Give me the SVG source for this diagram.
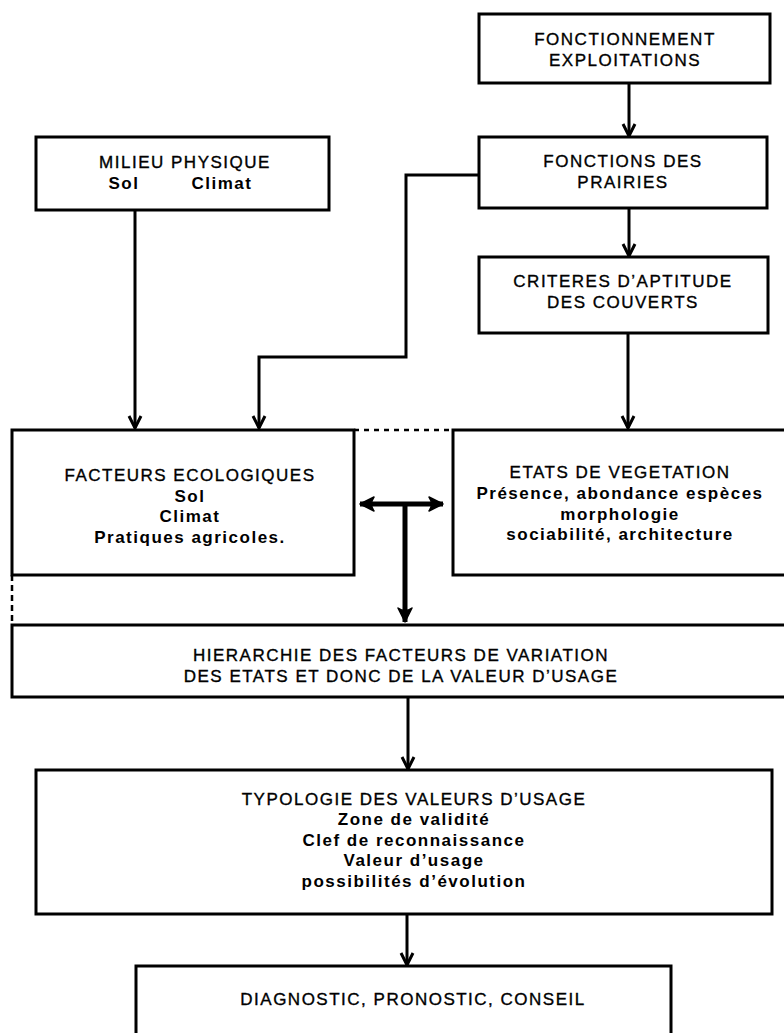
<svg xmlns="http://www.w3.org/2000/svg" width="784" height="1033" viewBox="0 0 784 1033">
<style>
.box{fill:none;stroke:#000;stroke-width:3}
.ln{fill:none;stroke:#000;stroke-width:3}
.t{font-family:"Liberation Sans",Arial,sans-serif;font-size:17px;letter-spacing:1.5px;fill:#000;text-anchor:middle;stroke:#000;stroke-width:0.35}
.b{font-weight:bold;stroke-width:0}
</style>
<defs>
<marker id="ah" markerUnits="userSpaceOnUse" viewBox="-14 -8 16 16" refX="0" refY="0" markerWidth="16" markerHeight="16" orient="auto">
<path d="M-12,-6 L0,0 L-12,6" fill="none" stroke="#000" stroke-width="3"/>
</marker>
<marker id="ahb" markerUnits="userSpaceOnUse" viewBox="-16 -9 18 18" refX="0" refY="0" markerWidth="18" markerHeight="18" orient="auto-start-reverse">
<path d="M0,0 L-14,-7 Q-9,0 -14,7 Z" fill="#000" stroke="#000" stroke-width="1.5" stroke-linejoin="round"/>
</marker>
</defs>
<rect width="784" height="1033" fill="#fff"/>
<g id="connectors">
<line class="ln" x1="629" y1="83" x2="629" y2="136" marker-end="url(#ah)"/>
<line class="ln" x1="629" y1="208" x2="629" y2="256" marker-end="url(#ah)"/>
<line class="ln" x1="628" y1="333" x2="628" y2="428" marker-end="url(#ah)"/>
<line class="ln" x1="135" y1="210" x2="135" y2="428" marker-end="url(#ah)"/>
<polyline class="ln" points="479,175 406,175 406,357 259,357 259,428" marker-end="url(#ah)"/>
<line x1="360" y1="504" x2="443" y2="504" stroke="#000" stroke-width="5" marker-start="url(#ahb)" marker-end="url(#ahb)"/>
<line x1="405" y1="504" x2="405" y2="622" stroke="#000" stroke-width="5" marker-end="url(#ahb)"/>
<line x1="354" y1="430" x2="453" y2="430" stroke="#000" stroke-width="2.5" stroke-dasharray="5,5"/>
<line x1="12" y1="575" x2="12" y2="625" stroke="#000" stroke-width="2.5" stroke-dasharray="6,4"/>
<line class="ln" x1="408" y1="697" x2="408" y2="769" marker-end="url(#ah)"/>
<line class="ln" x1="407" y1="914" x2="407" y2="965" marker-end="url(#ah)"/>
</g>
<g id="fonctionnement">
<rect class="box" x="479" y="14" width="291" height="69"/>
<text class="t" x="625" y="45">FONCTIONNEMENT</text>
<text class="t" x="625" y="66">EXPLOITATIONS</text>
</g>
<g id="fonctions">
<rect class="box" x="479" y="137" width="288" height="71"/>
<text class="t" x="623" y="167">FONCTIONS DES</text>
<text class="t" x="623" y="188">PRAIRIES</text>
</g>
<g id="criteres">
<rect class="box" x="479" y="257" width="289" height="76"/>
<text class="t" x="623" y="287">CRITERES D’APTITUDE</text>
<text class="t" x="623" y="308">DES COUVERTS</text>
</g>
<g id="milieu">
<rect class="box" x="36" y="137" width="293" height="73"/>
<text class="t" x="185" y="168">MILIEU PHYSIQUE</text>
<text class="t b" x="124" y="189">Sol</text>
<text class="t b" x="222" y="189">Climat</text>
</g>
<g id="facteurs">
<rect class="box" x="12" y="430" width="342" height="145"/>
<text class="t" x="190" y="481">FACTEURS ECOLOGIQUES</text>
<text class="t b" x="190" y="502">Sol</text>
<text class="t b" x="190" y="522">Climat</text>
<text class="t b" x="190" y="543">Pratiques agricoles.</text>
</g>
<g id="etats">
<path class="box" d="M800,430 H453 V575 H800"/>
<text class="t" x="620" y="478">ETATS DE VEGETATION</text>
<text class="t b" x="620" y="499">Présence, abondance espèces</text>
<text class="t b" x="620" y="520">morphologie</text>
<text class="t b" x="620" y="540">sociabilité, architecture</text>
</g>
<g id="hierarchie">
<path class="box" d="M800,625 H12 V697 H800"/>
<text class="t" x="401" y="661">HIERARCHIE DES FACTEURS DE VARIATION</text>
<text class="t" x="401" y="682">DES ETATS ET DONC DE LA VALEUR D’USAGE</text>
</g>
<g id="typologie">
<rect class="box" x="36" y="770" width="736" height="144"/>
<text class="t" x="414" y="805">TYPOLOGIE DES VALEURS D’USAGE</text>
<text class="t b" x="414" y="825">Zone de validité</text>
<text class="t b" x="414" y="846">Clef de reconnaissance</text>
<text class="t b" x="414" y="866">Valeur d’usage</text>
<text class="t b" x="414" y="887">possibilités d’évolution</text>
</g>
<g id="diagnostic">
<path class="box" d="M136,1040 V966 H671 V1040"/>
<text class="t" x="413" y="1005">DIAGNOSTIC, PRONOSTIC, CONSEIL</text>
</g>
</svg>
